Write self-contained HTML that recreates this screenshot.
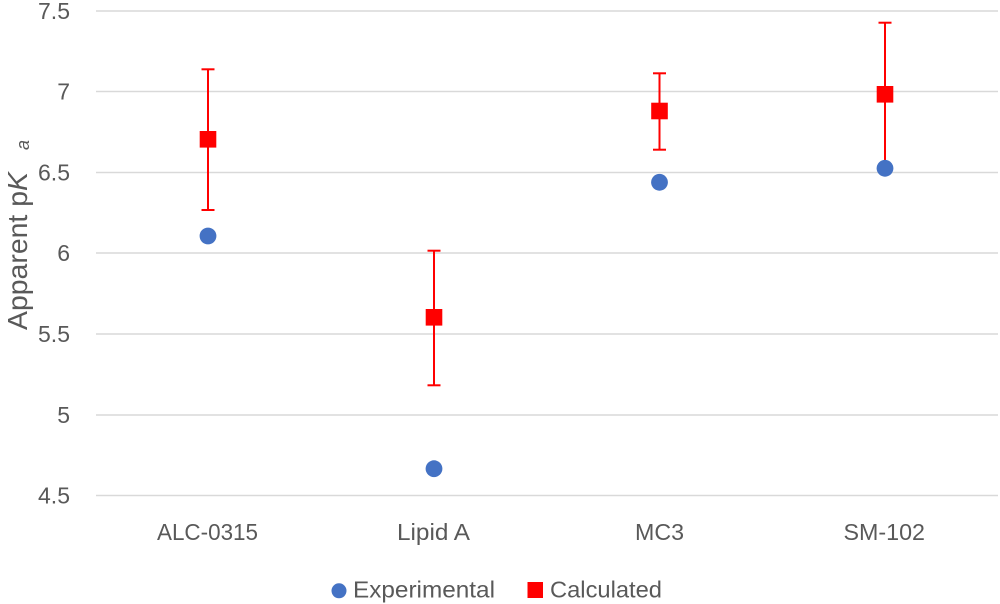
<!DOCTYPE html>
<html>
<head>
<meta charset="utf-8">
<style>
  html, body { margin: 0; padding: 0; background: #ffffff; }
  svg { display: block; }
  text { font-family: "Liberation Sans", Arial, sans-serif; fill: #595959; }
</style>
</head>
<body>
<svg width="1000" height="604" viewBox="0 0 1000 604" xmlns="http://www.w3.org/2000/svg">
  <rect x="0" y="0" width="1000" height="604" fill="#ffffff"/>

  <!-- gridlines -->
  <g stroke="#d9d9d9" stroke-width="1.5">
    <line x1="96" y1="11" x2="998" y2="11"/>
    <line x1="96" y1="91.5" x2="998" y2="91.5"/>
    <line x1="96" y1="172.5" x2="998" y2="172.5"/>
    <line x1="96" y1="253" x2="998" y2="253"/>
    <line x1="96" y1="334" x2="998" y2="334"/>
    <line x1="96" y1="415" x2="998" y2="415"/>
    <line x1="96" y1="495.5" x2="998" y2="495.5"/>
  </g>

  <!-- y tick labels -->
  <g font-size="23" text-anchor="end">
    <text x="70" y="19">7.5</text>
    <text x="70" y="99.5">7</text>
    <text x="70" y="180.5">6.5</text>
    <text x="70" y="261">6</text>
    <text x="70" y="342">5.5</text>
    <text x="70" y="423">5</text>
    <text x="70" y="503.5">4.5</text>
  </g>

  <!-- y axis title -->
  <text transform="translate(27,330) rotate(-90)" font-size="28" textLength="158" lengthAdjust="spacingAndGlyphs">Apparent p<tspan font-style="italic">K</tspan></text>
  <text transform="translate(29,150) rotate(-90)" font-size="18" font-style="italic">a</text>

  <!-- category labels -->
  <g font-size="23">
    <text x="157" y="540" textLength="101" lengthAdjust="spacingAndGlyphs">ALC-0315</text>
    <text x="397" y="540" textLength="73" lengthAdjust="spacingAndGlyphs">Lipid A</text>
    <text x="635" y="540" textLength="49" lengthAdjust="spacingAndGlyphs">MC3</text>
    <text x="843.5" y="540" textLength="81.5" lengthAdjust="spacingAndGlyphs">SM-102</text>
  </g>

  <!-- error bars (Calculated) -->
  <g stroke="#ff0000" stroke-width="2" fill="none">
    <!-- ALC-0315 -->
    <line x1="208" y1="69.3" x2="208" y2="210"/>
    <line x1="201.5" y1="69.3" x2="214.5" y2="69.3"/>
    <line x1="201.5" y1="210" x2="214.5" y2="210"/>
    <!-- Lipid A -->
    <line x1="434" y1="250.7" x2="434" y2="385.3"/>
    <line x1="427.5" y1="250.7" x2="440.5" y2="250.7"/>
    <line x1="427.5" y1="385.3" x2="440.5" y2="385.3"/>
    <!-- MC3 -->
    <line x1="659.5" y1="73.3" x2="659.5" y2="149.7"/>
    <line x1="653" y1="73.3" x2="666" y2="73.3"/>
    <line x1="653" y1="149.7" x2="666" y2="149.7"/>
    <!-- SM-102 -->
    <line x1="885" y1="22.7" x2="885" y2="166"/>
    <line x1="878.5" y1="22.7" x2="891.5" y2="22.7"/>
    <line x1="878.5" y1="166" x2="891.5" y2="166"/>
  </g>

  <!-- Calculated squares -->
  <g fill="#ff0000">
    <rect x="199.7" y="131" width="16.6" height="16.6"/>
    <rect x="425.7" y="309" width="16.6" height="16.6"/>
    <rect x="651.2" y="102.7" width="16.6" height="16.6"/>
    <rect x="876.7" y="86" width="16.6" height="16.6"/>
  </g>

  <!-- Experimental circles -->
  <g fill="#4472c4">
    <circle cx="208" cy="236" r="8.4"/>
    <circle cx="434" cy="468.7" r="8.4"/>
    <circle cx="659.5" cy="182.3" r="8.4"/>
    <circle cx="885" cy="168.3" r="8.4"/>
  </g>

  <!-- legend -->
  <circle cx="339" cy="590.8" r="7.5" fill="#4472c4"/>
  <text x="353" y="597.5" font-size="23" textLength="142" lengthAdjust="spacingAndGlyphs">Experimental</text>
  <rect x="527.5" y="582" width="15.5" height="16" fill="#ff0000"/>
  <text x="550" y="597.5" font-size="23" textLength="112" lengthAdjust="spacingAndGlyphs">Calculated</text>
</svg>
</body>
</html>
